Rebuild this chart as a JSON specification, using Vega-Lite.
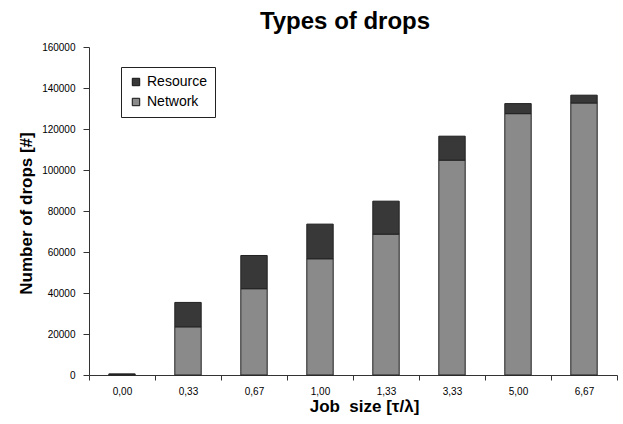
{
  "$schema": "https://vega.github.io/schema/vega-lite/v6.json",
  "width": 528,
  "height": 328,
  "autosize": {"type": "none"},
  "padding": {"left": 89, "top": 47, "right": 6, "bottom": 49},
  "background": "white",
  "title": {
    "text": "Types of drops",
    "font": "Liberation Sans",
    "fontSize": 24,
    "fontWeight": "bold",
    "color": "black",
    "anchor": "middle",
    "dx": -8,
    "offset": 8
  },
  "data": {
    "values": [
      {"size": "0,00", "type": "Network", "drops": 400},
      {"size": "0,00", "type": "Resource", "drops": 0},
      {"size": "0,33", "type": "Network", "drops": 23500},
      {"size": "0,33", "type": "Resource", "drops": 11900},
      {"size": "0,67", "type": "Network", "drops": 42100},
      {"size": "0,67", "type": "Resource", "drops": 16200},
      {"size": "1,00", "type": "Network", "drops": 56700},
      {"size": "1,00", "type": "Resource", "drops": 16900},
      {"size": "1,33", "type": "Network", "drops": 68700},
      {"size": "1,33", "type": "Resource", "drops": 16100},
      {"size": "3,33", "type": "Network", "drops": 104800},
      {"size": "3,33", "type": "Resource", "drops": 11700},
      {"size": "5,00", "type": "Network", "drops": 127500},
      {"size": "5,00", "type": "Resource", "drops": 4900},
      {"size": "6,67", "type": "Network", "drops": 132700},
      {"size": "6,67", "type": "Resource", "drops": 3800}
    ]
  },
  "mark": {"type": "bar", "width": {"band": 0.4}, "stroke": "#222222", "strokeWidth": 1},
  "encoding": {
    "x": {
      "field": "size",
      "type": "nominal",
      "sort": null,
      "scale": {"paddingInner": 0, "paddingOuter": 0},
      "axis": {
        "title": "Job\u00a0 size [τ/λ]",
        "titleFont": "Liberation Sans",
        "titleFontSize": 17,
        "titleFontWeight": "bold",
        "titleColor": "black",
        "titleX": 275,
        "titleY": 36,
        "titleBaseline": "alphabetic",
        "labelAngle": 0,
        "labelFont": "Liberation Sans",
        "labelFontSize": 10,
        "labelColor": "black",
        "labelPadding": 6,
        "tickBand": "extent",
        "tickSize": 5,
        "tickColor": "#333333",
        "domainColor": "#333333",
        "grid": false
      }
    },
    "y": {
      "field": "drops",
      "type": "quantitative",
      "stack": "zero",
      "scale": {"domain": [0, 160000], "nice": false},
      "axis": {
        "title": "Number of drops [#]",
        "titleFont": "Liberation Sans",
        "titleFontSize": 17,
        "titleFontWeight": "bold",
        "titleColor": "black",
        "titleX": -58,
        "titleY": 166,
        "titleBaseline": "alphabetic",
        "titleAlign": "center",
        "titleAngle": -90,
        "values": [0, 20000, 40000, 60000, 80000, 100000, 120000, 140000, 160000],
        "format": "d",
        "labelFont": "Liberation Sans",
        "labelFontSize": 10,
        "labelColor": "black",
        "labelPadding": 8,
        "tickSize": 6,
        "tickColor": "#333333",
        "domainColor": "#333333",
        "grid": false
      }
    },
    "color": {
      "field": "type",
      "type": "nominal",
      "scale": {"domain": ["Resource", "Network"], "range": ["#383838", "#8a8a8a"]},
      "legend": {
        "title": null,
        "orient": "none",
        "legendX": 32,
        "legendY": 20,
        "padding": 8,
        "strokeColor": "#222222",
        "fillColor": "white",
        "symbolType": "square",
        "symbolSize": 55,
        "symbolStrokeColor": "#111111",
        "symbolStrokeWidth": 1,
        "symbolOpacity": 1,
        "labelFont": "Liberation Sans",
        "labelFontSize": 14,
        "labelColor": "black",
        "rowPadding": 6,
        "labelOffset": 4
      }
    },
    "order": {"field": "type", "sort": "ascending"}
  },
  "config": {"view": {"stroke": null}}
}
